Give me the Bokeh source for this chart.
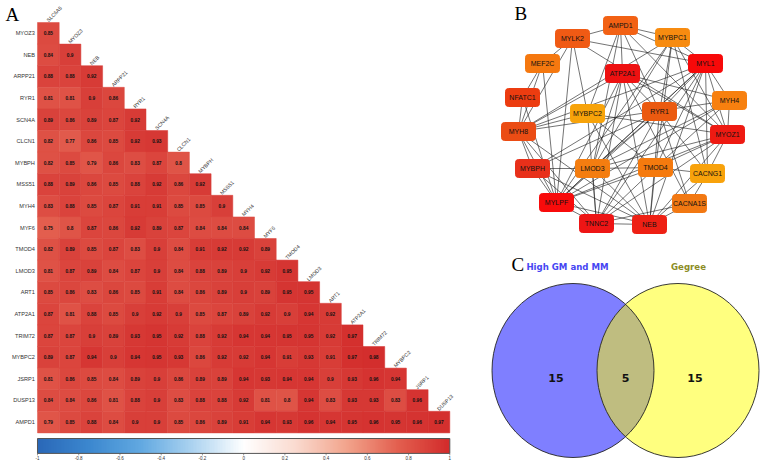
import numpy as np
from bokeh.plotting import figure
from bokeh.models import Range1d, ColumnDataSource, LinearColorMapper
from bokeh.layouts import row, column
from bokeh.embed import file_html
from bokeh.resources import INLINE
from bokeh.core.properties import value

# ---------------- data ----------------
row_genes = ["MYOZ3", "NEB", "ARPP21", "RYR1", "SCN4A", "CLCN1", "MYBPH", "MSS51", "MYH4",
             "MYF6", "TMOD4", "LMOD3", "ART1", "ATP2A1", "TRIM72", "MYBPC2", "JSRP1", "DUSP13", "AMPD1"]
col_genes = ["SLC6A5", "MYOZ3", "NEB", "ARPP21", "RYR1", "SCN4A", "CLCN1", "MYBPH", "MSS51", "MYH4",
             "MYF6", "TMOD4", "LMOD3", "ART1", "ATP2A1", "TRIM72", "MYBPC2", "JSRP1", "DUSP13"]
corr_rows = [
    [0.85],
    [0.84, 0.9],
    [0.88, 0.88, 0.92],
    [0.81, 0.81, 0.9, 0.86],
    [0.89, 0.86, 0.89, 0.87, 0.92],
    [0.82, 0.77, 0.86, 0.85, 0.92, 0.93],
    [0.82, 0.85, 0.79, 0.86, 0.83, 0.87, 0.8],
    [0.88, 0.89, 0.86, 0.85, 0.88, 0.92, 0.86, 0.92],
    [0.83, 0.88, 0.85, 0.87, 0.91, 0.91, 0.85, 0.85, 0.9],
    [0.75, 0.8, 0.87, 0.86, 0.92, 0.89, 0.87, 0.84, 0.84, 0.84],
    [0.82, 0.89, 0.85, 0.87, 0.83, 0.9, 0.84, 0.91, 0.92, 0.92, 0.89],
    [0.81, 0.87, 0.89, 0.84, 0.87, 0.9, 0.84, 0.88, 0.89, 0.9, 0.92, 0.95],
    [0.85, 0.86, 0.83, 0.86, 0.85, 0.91, 0.84, 0.86, 0.89, 0.9, 0.89, 0.95, 0.95],
    [0.87, 0.81, 0.88, 0.85, 0.9, 0.92, 0.9, 0.85, 0.87, 0.89, 0.92, 0.9, 0.94, 0.92],
    [0.87, 0.87, 0.9, 0.89, 0.93, 0.95, 0.92, 0.88, 0.92, 0.94, 0.94, 0.95, 0.95, 0.92, 0.97],
    [0.89, 0.87, 0.94, 0.9, 0.94, 0.95, 0.93, 0.86, 0.92, 0.92, 0.94, 0.91, 0.93, 0.91, 0.97, 0.98],
    [0.81, 0.86, 0.85, 0.84, 0.89, 0.9, 0.86, 0.89, 0.89, 0.94, 0.93, 0.94, 0.94, 0.9, 0.93, 0.96, 0.94],
    [0.84, 0.84, 0.86, 0.81, 0.88, 0.9, 0.83, 0.88, 0.88, 0.92, 0.81, 0.8, 0.94, 0.83, 0.93, 0.93, 0.83, 0.96],
    [0.79, 0.85, 0.88, 0.84, 0.9, 0.9, 0.85, 0.86, 0.89, 0.91, 0.94, 0.93, 0.96, 0.94, 0.95, 0.96, 0.95, 0.96, 0.97],
]
cbar_ticks = [-1, -0.8, -0.6, -0.4, -0.2, 0, 0.2, 0.4, 0.6, 0.8, 1]
cbar_tick_labels = ["-1", "-0.8", "-0.6", "-0.4", "-0.2", "0", "0.2", "0.4", "0.6", "0.8", "1"]

node_names = ["AMPD1", "MYLK2", "MYBPC1", "MEF2C", "ATP2A1", "MYL1", "NFATC1", "MYH4", "MYBPC2", "RYR1",
              "MYH8", "MYOZ1", "MYBPH", "LMOD3", "TMOD4", "CACNG1", "CACNA1S", "MYLPF", "TNNC2", "NEB"]
node_x = [132, 84, 184, 54, 134, 217, 34, 241, 99, 171, 30, 239, 44, 104, 167, 219, 201, 68, 108, 161]
node_y = [25, 38, 37, 63, 73, 63, 97, 100, 113, 111, 131, 134, 168, 168, 167, 173, 203, 202, 223, 224]
node_colors = ["#f26114", "#f05a14", "#f78b10", "#f5780f", "#ee1111", "#f70909", "#ec3c10", "#f7800f",
               "#f7a30a", "#eb5a10", "#eb4c14", "#ee1a12", "#e8301a", "#f47d10", "#f57a0e", "#f8a20b",
               "#f27812", "#f80b0b", "#ee1515", "#ee2014"]
edges = [
    ("AMPD1", "MYLK2"), ("AMPD1", "MYBPC1"), ("AMPD1", "ATP2A1"), ("AMPD1", "MYL1"), ("AMPD1", "LMOD3"),
    ("AMPD1", "MYBPC2"), ("AMPD1", "RYR1"), ("AMPD1", "MYOZ1"),
    ("MYLK2", "MEF2C"), ("MYLK2", "MYL1"), ("MYLK2", "MYBPC2"), ("MYLK2", "MYLPF"), ("MYLK2", "MYH8"), ("MYLK2", "MYOZ1"),
    ("MYBPC1", "MYL1"), ("MYBPC1", "MYH8"), ("MYBPC1", "RYR1"), ("MYBPC1", "TMOD4"), ("MYBPC1", "LMOD3"),
    ("MYBPC1", "MYLPF"), ("MYBPC1", "MYOZ1"), ("MYBPC1", "CACNG1"),
    ("MEF2C", "NFATC1"), ("MEF2C", "MYH8"), ("MEF2C", "MYLPF"),
    ("ATP2A1", "MYH8"), ("ATP2A1", "RYR1"), ("ATP2A1", "MYOZ1"), ("ATP2A1", "NEB"), ("ATP2A1", "TNNC2"),
    ("ATP2A1", "MYLPF"), ("ATP2A1", "CACNA1S"), ("ATP2A1", "MYH4"), ("ATP2A1", "LMOD3"),
    ("MYL1", "MYH4"), ("MYL1", "MYOZ1"), ("MYL1", "RYR1"), ("MYL1", "TMOD4"), ("MYL1", "LMOD3"), ("MYL1", "MYLPF"),
    ("MYL1", "MYBPH"), ("MYL1", "TNNC2"), ("MYL1", "NEB"), ("MYL1", "CACNG1"), ("MYL1", "MYH8"),
    ("NFATC1", "MYH8"), ("NFATC1", "MYLPF"),
    ("MYH4", "MYOZ1"), ("MYH4", "MYH8"), ("MYH4", "LMOD3"), ("MYH4", "TMOD4"), ("MYH4", "MYLPF"),
    ("MYBPC2", "MYH8"), ("MYBPC2", "TNNC2"), ("MYBPC2", "NEB"), ("MYBPC2", "MYOZ1"), ("MYBPC2", "TMOD4"),
    ("RYR1", "CACNA1S"), ("RYR1", "MYBPH"), ("RYR1", "TNNC2"), ("RYR1", "NEB"), ("RYR1", "LMOD3"),
    ("RYR1", "MYLPF"), ("RYR1", "CACNG1"),
    ("MYH8", "MYBPH"), ("MYH8", "MYLPF"), ("MYH8", "TNNC2"), ("MYH8", "NEB"),
    ("MYOZ1", "TMOD4"), ("MYOZ1", "LMOD3"), ("MYOZ1", "MYLPF"), ("MYOZ1", "TNNC2"), ("MYOZ1", "NEB"), ("MYOZ1", "CACNG1"),
    ("MYBPH", "MYLPF"), ("MYBPH", "TNNC2"), ("MYBPH", "NEB"), ("MYBPH", "LMOD3"),
    ("LMOD3", "TMOD4"), ("LMOD3", "TNNC2"), ("LMOD3", "NEB"), ("LMOD3", "MYLPF"),
    ("TMOD4", "NEB"), ("TMOD4", "TNNC2"), ("TMOD4", "MYLPF"), ("TMOD4", "CACNG1"),
    ("CACNG1", "CACNA1S"), ("CACNG1", "NEB"), ("CACNA1S", "NEB"), ("CACNA1S", "TNNC2"),
    ("MYLPF", "TNNC2"), ("MYLPF", "NEB"), ("TNNC2", "NEB"),
]

venn_names = ["High GM and MM", "Gegree"]
venn_counts = [15, 5, 15]

# ---------------- palette ----------------
def ramp(stops, n=256):
    pos = np.array([s[0] for s in stops])
    cols = np.array([[int(s[1][k:k + 2], 16) for k in (1, 3, 5)] for s in stops], dtype=float)
    out = []
    for t in np.linspace(-1, 1, n):
        rgb = [int(round(np.interp(t, pos, cols[:, k]))) for k in range(3)]
        out.append("#%02x%02x%02x" % tuple(rgb))
    return out

palette = ramp([(-1, "#2a68b8"), (-0.75, "#3c88cf"), (-0.5, "#62a9e1"), (-0.25, "#acd3f0"),
                (0, "#ffffff"), (0.25, "#fadbd0"), (0.5, "#f2a48c"), (0.75, "#e35f4f"), (1, "#d22b2b")])
mapper = LinearColorMapper(palette=palette, low=-1, high=1)

# ---------------- panel A: heatmap ----------------
n = len(row_genes)
hx, hy, hv, ht = [], [], [], []
for i, vals in enumerate(corr_rows):
    for j, v in enumerate(vals):
        hx.append(j); hy.append(i); hv.append(v); ht.append(f"{v:g}")
hsrc = ColumnDataSource(dict(x=hx, y=hy, v=hv, t=ht))

heat = figure(width=488, height=464, x_range=Range1d(-2.205, 20.283), y_range=Range1d(19.963, -1.5185),
              output_backend="svg", toolbar_location=None, min_border=0,
              x_axis_location=None, y_axis_location=None)
heat.grid.visible = False
heat.outline_line_color = None

heat.rect(x="x", y="y", width=1, height=1, source=hsrc,
          fill_color={"field": "v", "transform": mapper},
          line_color={"field": "v", "transform": mapper}, line_width=0.5)
heat.text(x="x", y="y", text="t", source=hsrc, text_font=value("Liberation Sans"),
          text_font_size="4.8px", text_font_style="bold", text_color="#111111",
          text_align="center", text_baseline="middle")
heat.text(x=[-0.62] * n, y=list(range(n)), text=row_genes, text_font=value("Liberation Sans"),
          text_font_size="5.6px", text_color="#333333", text_align="right", text_baseline="middle")
heat.text(x=[j - 0.05 for j in range(n)], y=[j - 0.58 for j in range(n)], text=col_genes,
          angle=np.pi / 4, text_font=value("Liberation Sans"), text_font_size="5.2px",
          text_color="#333333", text_align="left", text_baseline="middle")
heat.text(x=[-1.975], y=[-0.87], text=["A"], text_font=value("Liberation Serif"),
          text_font_size="19px", text_color="#000000", text_align="left", text_baseline="middle")

# colour bar
grad = np.linspace(-1, 1, 256).reshape(1, -1)
cb_y0, cb_h = 18.76, 0.69
heat.image(image=[grad], x=-0.5, y=cb_y0, dw=n, dh=cb_h, color_mapper=mapper)
heat.rect(x=[(n - 1) / 2], y=[cb_y0 + cb_h / 2], width=n, height=cb_h, fill_color=None,
          line_color="#555555", line_width=1)
tx = [-0.5 + (t + 1) / 2 * n for t in cbar_ticks]
heat.segment(x0=tx, y0=[cb_y0 + cb_h] * len(tx), x1=tx, y1=[cb_y0 + cb_h + 0.09] * len(tx),
             line_color="#555555", line_width=0.6)
heat.text(x=tx, y=[cb_y0 + cb_h + 0.13] * len(tx), text=cbar_tick_labels, text_font=value("Liberation Sans"),
          text_font_size="4.5px", text_color="#333333", text_align="center", text_baseline="top")

# ---------------- panel B: network ----------------
net = figure(width=272, height=248, x_range=Range1d(0, 272), y_range=Range1d(248, 0),
             output_backend="svg", toolbar_location=None, min_border=0,
             x_axis_location=None, y_axis_location=None)
net.grid.visible = False
net.outline_line_color = None
idx = {nm: k for k, nm in enumerate(node_names)}
ex0 = [node_x[idx[a]] for a, b in edges]
ey0 = [node_y[idx[a]] for a, b in edges]
ex1 = [node_x[idx[b]] for a, b in edges]
ey1 = [node_y[idx[b]] for a, b in edges]
net.segment(x0=ex0, y0=ey0, x1=ex1, y1=ey1, line_color="#222222", line_width=0.7, line_alpha=0.9)
nsrc = ColumnDataSource(dict(x=node_x, y=node_y, c=node_colors, t=node_names))
net.rect(x="x", y="y", width=34, height=18, source=nsrc, fill_color="c", line_color="c",
         border_radius=3)
net.text(x="x", y="y", text="t", source=nsrc, text_font=value("Liberation Sans"),
         text_font_size="7px", text_color="#111111", text_align="center", text_baseline="middle")
net.text(x=[26], y=[13], text=["B"], text_font=value("Liberation Serif"),
         text_font_size="19px", text_color="#000000", text_align="left", text_baseline="middle")

# ---------------- panel C: venn ----------------
venn = figure(width=272, height=216, x_range=Range1d(0, 272), y_range=Range1d(216, 0),
              output_backend="svg", toolbar_location=None, min_border=0,
              x_axis_location=None, y_axis_location=None)
venn.grid.visible = False
venn.outline_line_color = None
a_ax, b_ax, cy = 81, 87, 122
c1, c2 = 84.5, 189.5
venn.ellipse(x=[c1], y=[cy], width=2 * a_ax, height=2 * b_ax, fill_color="#7f7fff", line_color=None)
venn.ellipse(x=[c2], y=[cy], width=2 * a_ax, height=2 * b_ax, fill_color="#ffff7f", line_color=None)
xm = (c1 + c2) / 2
th0 = np.arccos((xm - c1) / a_ax)
t1 = np.linspace(-th0, th0, 60)
t2 = np.linspace(np.pi - th0, np.pi + th0, 60)
lx = np.concatenate([c1 + a_ax * np.cos(t1), c2 + a_ax * np.cos(t2)])
ly = np.concatenate([cy + b_ax * np.sin(t1), cy + b_ax * np.sin(t2)])
venn.patch(x=lx, y=ly, fill_color="#bfbd80", line_color=None)
venn.ellipse(x=[c1, c2], y=[cy, cy], width=2 * a_ax, height=2 * b_ax, fill_color=None,
             line_color="#222222", line_width=0.9)
venn.text(x=[c1 - 17, xm, c2 + 17], y=[cy + 7] * 3, text=[str(v) for v in venn_counts],
          text_font=value("DejaVu Sans"), text_font_size="11px", text_font_style="bold",
          text_color="#111111", text_align="center", text_baseline="middle")
venn.text(x=[79], y=[18], text=[venn_names[0]], text_font=value("DejaVu Sans"),
          text_font_size="8.6px", text_font_style="bold", text_color="#4646f2",
          text_align="center", text_baseline="middle")
venn.text(x=[200], y=[18], text=[venn_names[1]], text_font=value("DejaVu Sans"),
          text_font_size="8.6px", text_font_style="bold", text_color="#8c8c25",
          text_align="center", text_baseline="middle")
venn.text(x=[23], y=[16], text=["C"], text_font=value("Liberation Serif"),
          text_font_size="19px", text_color="#000000", text_align="left", text_baseline="middle")

layout = row(heat, column(net, venn))
open("out.html", "w").write(file_html(layout, INLINE))
